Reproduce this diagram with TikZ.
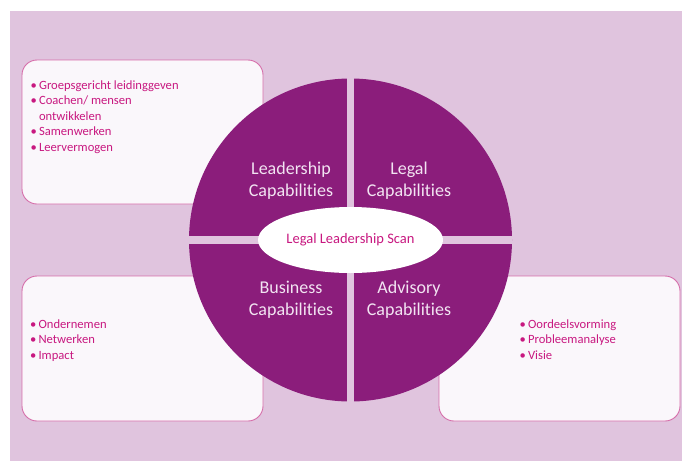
\documentclass[tikz,border=0pt]{standalone}
\usepackage{fontspec}
\setmainfont{Carlito}[Ligatures={NoCommon,NoContextual}]
\usetikzlibrary{shapes.geometric}
\definecolor{bgpink}{RGB}{224,196,222}
\definecolor{capurple}{RGB}{139,29,123}
\definecolor{boxfill}{RGB}{250,247,251}
\definecolor{boxline}{RGB}{214,110,170}
\definecolor{txtpink}{RGB}{200,24,128}
\definecolor{captxt}{RGB}{242,228,242}
\newcommand{\capab}{Capabilit\kern0pt ies}
\begin{document}
\begin{tikzpicture}[x=1pt,y=-1pt,
  infobox/.style={draw=boxline,line width=0.9pt,fill=boxfill,rounded corners=15pt},
  itemtxt/.style={anchor=base west,inner sep=0pt,text=txtpink,font=\fontsize{12.6}{15.5}\selectfont},
  captxtstyle/.style={align=center,text=captxt,inner sep=0pt,font=\fontsize{18}{21.7}\selectfont}]
\useasboundingbox (0,0) rectangle (682,461);
\fill[white] (0,0) rectangle (682,461);
\fill[bgpink] (10,11) rectangle (682,461);
% boxes
\draw[infobox] (22,60) rectangle (263,204);
\draw[infobox] (22,276) rectangle (263,421);
\draw[infobox] (439,276) rectangle (680,421);
% top-left items
\node[itemtxt] (tl1) at (30.5,89) {•\,Groepsgericht leidinggeven};
\node[itemtxt] (tl2) at (30.5,104.5) {•\,Coachen/ mensen};
\node[itemtxt] (tl3) at (30.5,120) {\phantom{•\,}ontwikkelen};
\node[itemtxt] (tl4) at (30.5,135.5) {•\,Samenwerken};
\node[itemtxt] (tl5) at (30.5,151) {•\,Leervermogen};
% bottom-left items
\node[itemtxt] (bl1) at (30,328) {•\,Ondernemen};
\node[itemtxt] (bl2) at (30,343.5) {•\,Netwerken};
\node[itemtxt] (bl3) at (30,359) {•\,Impact};
% bottom-right items
\node[itemtxt] (br1) at (519.5,328) {•\,Oordeelsvorming};
\node[itemtxt] (br2) at (519.5,343.5) {•\,Probleemanalyse};
\node[itemtxt] (br3) at (519.5,359) {•\,Visie};
% circle
\node[circle,fill=capurple,minimum size=323pt,inner sep=0pt] (wheel) at (350.5,240) {};
\draw[bgpink,line width=7.5pt] (wheel.north) -- (wheel.south);
\draw[bgpink,line width=7.5pt] (wheel.west) -- (wheel.east);
\node[ellipse,fill=white,minimum width=185pt,minimum height=66pt,inner sep=0pt,
  text=txtpink,font=\fontsize{14.5}{17}\selectfont] (scan) at (350.5,240) {Legal Leadership Scan};
\node[captxtstyle] (lead) at (291,181) {Leadership\\\capab};
\node[captxtstyle] (legal) at (409,181) {Legal\\\capab};
\node[captxtstyle] (bus) at (291,300) {Business\\\capab};
\node[captxtstyle] (adv) at (409,300) {Advisory\\\capab};
\end{tikzpicture}
\end{document}
